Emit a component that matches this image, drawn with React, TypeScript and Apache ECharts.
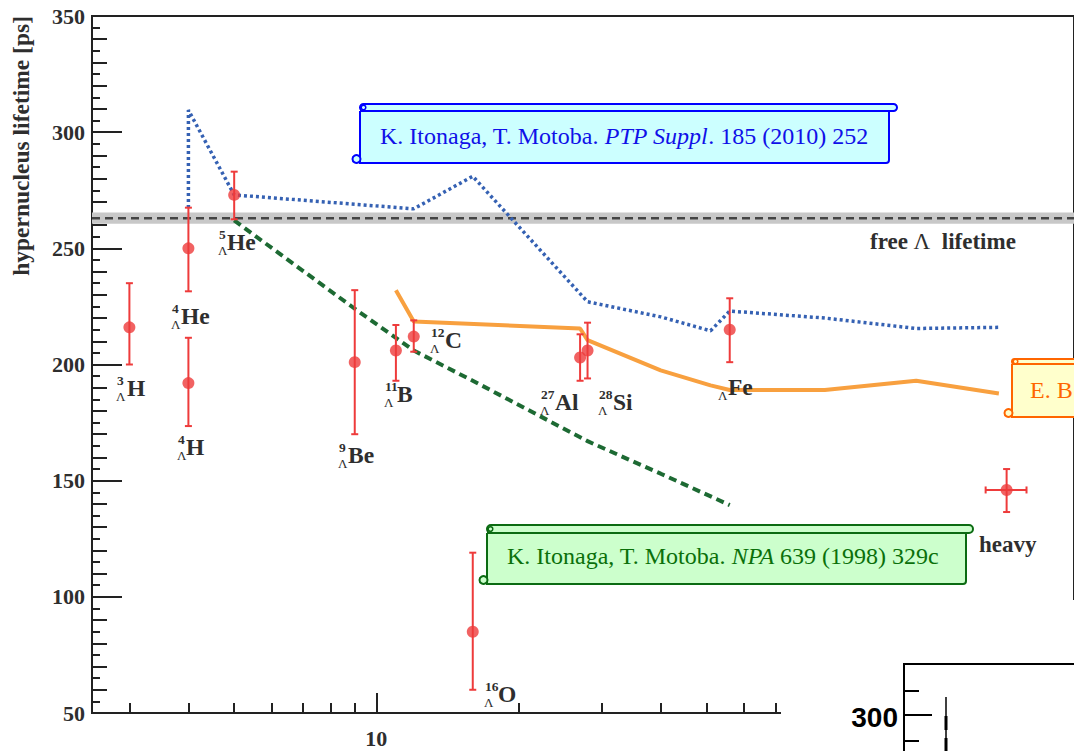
import React, { useEffect, useRef } from 'react';
import * as echarts from 'echarts';

// ---- axis ranges ----
const X_MIN = 2.5;
const X_MAX = 300;
const Y_MIN = 50;
const Y_MAX = 350;
const X_MINOR_TICKS = [3, 4, 5, 6, 7, 8, 9, 20, 30, 40, 50, 60, 70, 80, 90, 200];
const X_MAJOR_TICKS = [10];

// ---- measured hypernuclear lifetimes ----
const NUCLEI = ['3ΛH', '4ΛH', '4ΛHe', '5ΛHe', '9ΛBe', '11ΛB', '12ΛC', '16ΛO', '27ΛAl', '28ΛSi', '56ΛFe', 'heavy'];
const MASS = [3, 4, 4, 5, 9, 11, 12, 16, 27, 28, 56, 216];
const MASS_LO = [3, 4, 4, 5, 9, 11, 12, 16, 27, 28, 56, 195];
const MASS_HI = [3, 4, 4, 5, 9, 11, 12, 16, 27, 28, 56, 238];
const TAU = [216, 192, 250, 273, 201, 206, 212, 85, 203, 206, 215, 146];
const TAU_HI = [235, 211.5, 267.5, 283, 232, 217, 219, 119, 213, 218, 228.5, 155];
const TAU_LO = [200, 173.5, 231.5, 262.5, 170, 193, 205.5, 60, 193, 194, 201, 136.5];

// ---- theory curves ----
const ITO2010_A = [4, 4, 5, 12, 16, 28, 40, 51, 56, 89, 139, 208];
const ITO2010_TAU = [267.4, 309.5, 273, 267, 281, 227, 220.5, 214.5, 223, 220, 215.5, 216];
const ITO1998_A = [5, 9, 12, 16, 28, 40, 56];
const ITO1998_TAU = [262, 224, 206, 193, 167, 153, 139.5];
const BAUER_A = [11, 12, 27, 28, 40, 51, 56, 89, 139, 208];
const BAUER_TAU = [232, 218.5, 215.5, 210.5, 197.5, 191, 189, 189, 193, 187.5];

// ---- free Lambda lifetime ----
const FREE_TAU = 263;
const FREE_BAND = [260.6, 265.4];

// ---- label texts ----
const LBL_SUP = ['3', '4', '4', '5', '9', '11', '12', '16', '27', '28', ''];
const LBL_EL = ['H', 'H', 'He', 'He', 'Be', 'B', 'C', 'O', 'Al', 'Si', 'Fe'];
// label layout: [prescript x, element baseline y, element x]
const LBL_POS = [
  [116, 396, 127], [177, 455, 186], [171, 324, 181], [218, 250, 227], [338, 463, 348],
  [384, 402, 397], [430, 348, 445], [484, 702, 498], [540, 410, 555], [598, 410, 613], [718, 395, 728],
];

const RED = '#ee3b3b';
const DARK = '#2e2e2e';
const SERIF = '"Liberation Serif", "Times New Roman", serif';

function mid(baseline: number, size: number) {
  return baseline - 0.32 * size;
}

function txt(x: number, baseline: number, text: string, size: number, opts: any = {}) {
  return {
    type: 'text', z: 20, silent: true,
    style: {
      text, x, y: mid(baseline, size), fontSize: size, fontFamily: SERIF,
      fontWeight: opts.weight || 'bold', fill: opts.fill || DARK,
      align: opts.align || 'left', verticalAlign: 'middle',
    },
  };
}

function scroll(x: number, y: number, w: number, stripH: number, bodyH: number, extra: number, stroke: string, fill: string) {
  return [
    { type: 'rect', z: 20, shape: { x, y: y + stripH, width: w, height: bodyH, r: [0, 0, 3, 0] }, style: { fill, stroke, lineWidth: 2 } },
    { type: 'rect', z: 21, shape: { x, y, width: w + extra, height: stripH, r: stripH / 2 }, style: { fill, stroke, lineWidth: 2 } },
    { type: 'circle', z: 22, shape: { cx: x + 3.5, cy: y + stripH / 2, r: 2.3 }, style: { fill: 'none', stroke, lineWidth: 1.5 } },
    { type: 'circle', z: 22, shape: { cx: x - 3.5, cy: y + stripH + bodyH - 4, r: 4 }, style: { fill, stroke, lineWidth: 2 } },
  ];
}

function buildGraphic() {
  const g: any[] = [];
  // nucleus labels
  LBL_EL.forEach((el, i) => {
    const [px, by, ex] = LBL_POS[i];
    if (LBL_SUP[i]) g.push(txt(px + 1, by - 11, LBL_SUP[i], 13.5));
    g.push(txt(px, by + 5, 'Λ', 13, { weight: 'normal' }));
    g.push(txt(ex, by, el, 23.5));
  });
  g.push(txt(979, 552, 'heavy', 23));
  // free lambda label
  g.push({
    type: 'text', z: 20, silent: true,
    style: {
      text: '{b|free} {l|Λ}  {b|lifetime}', x: 870, y: mid(249, 23), verticalAlign: 'middle', align: 'left',
      fontFamily: SERIF, fontSize: 23, fontWeight: 'bold', fill: DARK,
      rich: {
        b: { fontFamily: SERIF, fontSize: 23, fontWeight: 'bold', fill: DARK },
        l: { fontFamily: SERIF, fontSize: 23, fontWeight: 'normal', fill: DARK },
      },
    },
  });
  // y axis title
  g.push({
    type: 'text', z: 20, silent: true, x: 21, y: 16, rotation: Math.PI / 2,
    style: {
      text: 'hypernucleus lifetime [ps]', x: 0, y: 0, align: 'right', verticalAlign: 'middle',
      fontFamily: SERIF, fontSize: 23.5, fontWeight: 'bold', fill: DARK,
    },
  });
  // callout boxes
  const BLUE = '#0000ff';
  g.push(...scroll(360, 104, 529, 7, 52, 8, BLUE, '#ccffff'));
  g.push({
    type: 'text', z: 25, silent: true,
    style: {
      text: '{n|K. Itonaga, T. Motoba. }{i|PTP Suppl}{n|. 185 (2010) 252}', x: 380, y: mid(144, 24),
      align: 'left', verticalAlign: 'middle', fontFamily: SERIF, fontSize: 24, fill: BLUE,
      rich: {
        n: { fontFamily: SERIF, fontSize: 24, fill: '#1010e8', color: '#1010e8' },
        i: { fontFamily: SERIF, fontSize: 24, fontStyle: 'italic', fill: '#1010e8', color: '#1010e8' },
      },
    },
  });
  const GREEN = '#0b6b12';
  g.push(...scroll(487, 525, 479, 8, 51, 7, GREEN, '#ccffcc'));
  g.push({
    type: 'text', z: 25, silent: true,
    style: {
      text: '{n|K. Itonaga, T. Motoba. }{i|NPA}{n| 639 (1998) 329c}', x: 507, y: mid(564, 24),
      align: 'left', verticalAlign: 'middle', fontFamily: SERIF, fontSize: 24, fill: '#0a700a',
      rich: {
        n: { fontFamily: SERIF, fontSize: 24, fill: '#0a700a', color: '#0a700a' },
        i: { fontFamily: SERIF, fontSize: 24, fontStyle: 'italic', fill: '#0a700a', color: '#0a700a' },
      },
    },
  });
  const ORANGE = '#ff6600';
  g.push(...scroll(1012, 359, 120, 5, 53, 8, ORANGE, '#ffffcc'));
  g.push(txt(1030, 398, 'E. B', 24, { weight: 'normal', fill: ORANGE }));

  // white cover + inset fragment at bottom right
  g.push({ type: 'rect', z: 50, shape: { x: 781, y: 600, width: 300, height: 160 }, style: { fill: '#ffffff' } });
  const ink = { stroke: '#000', lineWidth: 2 };
  g.push({ type: 'line', z: 51, shape: { x1: 904, y1: 664, x2: 1080, y2: 664 }, style: ink });
  g.push({ type: 'line', z: 51, shape: { x1: 904, y1: 663, x2: 904, y2: 760 }, style: ink });
  g.push({ type: 'line', z: 51, shape: { x1: 904, y1: 691, x2: 919, y2: 691 }, style: ink });
  g.push({ type: 'line', z: 51, shape: { x1: 904, y1: 715, x2: 932, y2: 715 }, style: ink });
  g.push({ type: 'line', z: 51, shape: { x1: 904, y1: 741, x2: 919, y2: 741 }, style: ink });
  g.push({ type: 'line', z: 51, shape: { x1: 946, y1: 697, x2: 946, y2: 760 }, style: { stroke: '#000', lineWidth: 1.5 } });
  g.push({ type: 'line', z: 51, shape: { x1: 946, y1: 716, x2: 946, y2: 730 }, style: { stroke: '#000', lineWidth: 3 } });
  g.push({ type: 'line', z: 51, shape: { x1: 946, y1: 738, x2: 946, y2: 760 }, style: { stroke: '#000', lineWidth: 3 } });
  g.push({
    type: 'text', z: 51, silent: true,
    style: {
      text: '300', x: 898, y: 717, align: 'right', verticalAlign: 'middle',
      fontFamily: '"Liberation Sans", Arial, sans-serif', fontSize: 28, fontWeight: 'bold', fill: '#000',
    },
  });
  return g;
}

function buildOption(): any {
  const errData = MASS.map((a, i) => [a, TAU[i], TAU_LO[i], TAU_HI[i], MASS_LO[i], MASS_HI[i]]);
  const tickStyle = { color: '#222', width: 2 };
  const lx0 = Math.log10(X_MIN);
  const lx1 = Math.log10(X_MAX);
  return {
    animation: false,
    backgroundColor: '#ffffff',
    textStyle: { fontFamily: SERIF },
    grid: {
      left: 92, top: 16, right: -3, bottom: 38, show: true,
      borderColor: '#222', borderWidth: 2, backgroundColor: 'transparent',
    },
    xAxis: [
      {
        type: 'log', logBase: 10, min: X_MIN, max: X_MAX, position: 'bottom',
        axisLine: { show: true, lineStyle: { color: '#222', width: 2 } },
        axisTick: { show: false }, axisLabel: { show: false }, splitLine: { show: false },
      },
      {
        type: 'value', min: lx0, max: lx1, position: 'bottom',
        axisLine: { show: false },
        axisTick: { show: true, inside: true, length: 10, lineStyle: tickStyle, customValues: X_MINOR_TICKS.map((v) => Math.log10(v)) },
        axisLabel: { show: false }, splitLine: { show: false },
      },
      {
        type: 'value', min: lx0, max: lx1, position: 'bottom',
        axisLine: { show: false },
        axisTick: { show: true, inside: true, length: 20, lineStyle: tickStyle, customValues: X_MAJOR_TICKS.map((v) => Math.log10(v)) },
        axisLabel: {
          show: true, customValues: X_MAJOR_TICKS.map((v) => Math.log10(v)),
          formatter: (v: number) => String(Math.round(Math.pow(10, v))),
          margin: 14, fontSize: 22, fontWeight: 'bold', color: DARK, fontFamily: SERIF,
        },
        splitLine: { show: false },
      },
    ],
    yAxis: [
      {
        type: 'value', min: Y_MIN, max: Y_MAX, interval: 50, position: 'left',
        axisLine: { show: true, lineStyle: { color: '#222', width: 2 } },
        axisTick: { show: true, inside: true, length: 30, lineStyle: tickStyle },
        axisLabel: { fontSize: 22, fontWeight: 'bold', color: DARK, fontFamily: SERIF, margin: 7 },
        splitLine: { show: false },
      },
      {
        type: 'value', min: Y_MIN, max: Y_MAX, interval: 10, position: 'left',
        axisLine: { show: false },
        axisTick: { show: true, inside: true, length: 15, lineStyle: tickStyle },
        minorTick: { show: true, splitNumber: 2, length: 8, lineStyle: tickStyle },
        axisLabel: { show: false }, splitLine: { show: false },
      },
    ],
    series: [
      {
        name: 'free Λ lifetime', type: 'line', xAxisIndex: 0, yAxisIndex: 0, z: 1,
        data: [[X_MIN, FREE_TAU], [X_MAX, FREE_TAU]], showSymbol: false, silent: true,
        lineStyle: { color: '#444', width: 2.5, type: [8, 5] },
        markArea: {
          silent: true, itemStyle: { color: '#c8c8c8' },
          data: [[{ yAxis: FREE_BAND[0] }, { yAxis: FREE_BAND[1] }]],
        },
      },
      {
        name: 'Itonaga-Motoba 2010', type: 'line', xAxisIndex: 0, yAxisIndex: 0, z: 3,
        data: ITO2010_A.map((a, i) => [a, ITO2010_TAU[i]]), showSymbol: false, silent: true,
        lineStyle: { color: '#3561b3', width: 3.5, type: [3, 3] },
      },
      {
        name: 'Itonaga-Motoba 1998', type: 'line', xAxisIndex: 0, yAxisIndex: 0, z: 3,
        data: ITO1998_A.map((a, i) => [a, ITO1998_TAU[i]]), showSymbol: false, silent: true,
        lineStyle: { color: '#1d6a33', width: 4, type: [8, 5] },
      },
      {
        name: 'Bauer', type: 'line', xAxisIndex: 0, yAxisIndex: 0, z: 3,
        data: BAUER_A.map((a, i) => [a, BAUER_TAU[i]]), showSymbol: false, silent: true,
        lineStyle: { color: '#f8a03f', width: 4 },
      },
      {
        name: 'errors', type: 'custom', xAxisIndex: 0, yAxisIndex: 0, z: 4, silent: true,
        data: errData,
        encode: { x: 0, y: [1, 2, 3] },
        renderItem: (params: any, api: any) => {
          const a = api.value(0);
          const lo = api.value(2);
          const hi = api.value(3);
          const alo = api.value(4);
          const ahi = api.value(5);
          const pLo = api.coord([a, lo]);
          const pHi = api.coord([a, hi]);
          const st = { stroke: RED, lineWidth: 2 };
          const cap = 3.5;
          const children: any[] = [
            { type: 'line', shape: { x1: pLo[0], y1: pLo[1], x2: pHi[0], y2: pHi[1] }, style: st },
            { type: 'line', shape: { x1: pLo[0] - cap, y1: pLo[1], x2: pLo[0] + cap, y2: pLo[1] }, style: st },
            { type: 'line', shape: { x1: pHi[0] - cap, y1: pHi[1], x2: pHi[0] + cap, y2: pHi[1] }, style: st },
          ];
          if (alo !== ahi) {
            const y = api.value(1);
            const pL = api.coord([alo, y]);
            const pR = api.coord([ahi, y]);
            children.push(
              { type: 'line', shape: { x1: pL[0], y1: pL[1], x2: pR[0], y2: pR[1] }, style: st },
              { type: 'line', shape: { x1: pL[0], y1: pL[1] - cap, x2: pL[0], y2: pL[1] + cap }, style: st },
              { type: 'line', shape: { x1: pR[0], y1: pR[1] - cap, x2: pR[0], y2: pR[1] + cap }, style: st },
            );
          }
          return { type: 'group', children };
        },
      },
      {
        name: 'hypernuclei', type: 'scatter', xAxisIndex: 0, yAxisIndex: 0, z: 5, silent: true,
        data: MASS.map((a, i) => ({ name: NUCLEI[i], value: [a, TAU[i]] })),
        symbol: 'circle', symbolSize: 12, itemStyle: { color: RED },
      },
    ],
    graphic: buildGraphic(),
  };
}

export default function App() {
  const ref = useRef<HTMLDivElement>(null);
  useEffect(() => {
    const chart = echarts.init(ref.current!, null, { renderer: 'svg' });
    chart.setOption(buildOption());
    return () => chart.dispose();
  }, []);
  return (
    <div
      ref={ref}
      style={{ position: 'fixed', left: 0, top: 0, width: 1074, height: 751, background: '#fff' }}
    />
  );
}
